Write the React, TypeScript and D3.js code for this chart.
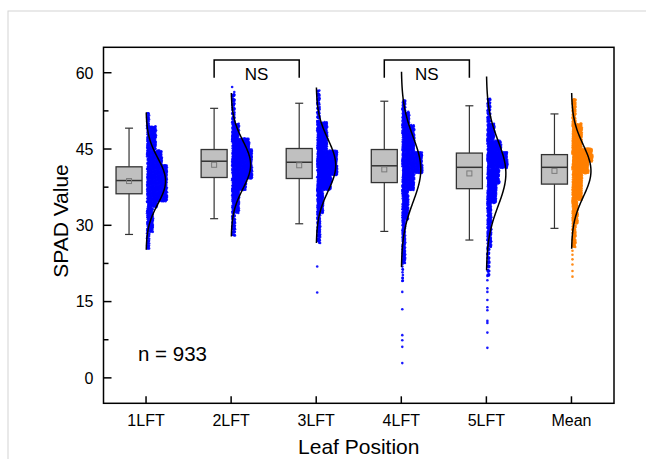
import React from 'react';
import * as d3 from 'd3';

// ---------- data ----------
const categories = ['1LFT', '2LFT', '3LFT', '4LFT', '5LFT', 'Mean'];
const whiskerLow = [28.2, 31.3, 30.3, 28.8, 27.1, 29.4];
const q1 = [36.2, 39.4, 39.2, 38.4, 37.2, 38.1];
const medians = [38.8, 42.6, 42.4, 41.7, 41.4, 41.4];
const q3 = [41.5, 44.9, 45.1, 44.9, 44.2, 43.9];
const whiskerHigh = [49.1, 53.0, 54.0, 54.4, 53.5, 51.9];
const means = [38.7, 41.9, 41.8, 41.0, 40.2, 40.7];
const curveSD = [4.5, 4.7, 5.1, 6.4, 6.35, 5.1];

// scatter distributions: bin edges (SPAD) and point counts per bin
const binEdges1 = [25.3, 28.7, 33.5, 34.6, 41.9, 44.7, 49.5, 52.3];
const binCounts1 = [28, 94, 36, 478, 137, 141, 19];
const outliers1: number[] = [];

const binEdges2 = [28.0, 32.4, 36.9, 39.1, 45.0, 47.1, 50.0, 56.2];
const binCounts2 = [46, 111, 108, 415, 126, 71, 55];
const outliers2 = [57.2];

const binEdges3 = [26.5, 32.4, 36.9, 39.8, 44.7, 50.3, 56.5];
const binCounts3 = [65, 99, 149, 358, 205, 55];
const outliers3 = [21.9, 16.8];

const binEdges4 = [18.6, 22.5, 31.0, 36.9, 40.2, 44.4, 49.7, 52.3, 54.6];
const binCounts4 = [10, 86, 119, 133, 281, 214, 61, 23];
const outliers4 = [16.9, 13.5, 8.4, 7.4, 6.1, 2.9];

const binEdges5 = [19.8, 25.7, 34.3, 38.2, 41.2, 44.4, 46.7, 50.0, 54.9];
const binCounts5 = [43, 126, 129, 132, 236, 118, 85, 54];
const outliers5 = [19.2, 17.6, 16.9, 15.3, 13.9, 13.3, 11.2, 10.8, 8.9, 5.9];

const binEdges6 = [25.7, 30.3, 34.9, 40.2, 42.5, 45.1, 50.0, 54.9];
const binCounts6 = [56, 94, 195, 141, 201, 180, 60];
const outliers6 = [25.0, 24.2, 23.3, 22.3, 21.0, 19.9];

const yMajorTicks = [0, 15, 30, 45, 60];
const yMinorTicks = [7.5, 22.5, 37.5, 52.5];
const nLabel = 'n = 933';
const bracketPairs = [
  ['2LFT', '3LFT'],
  ['4LFT', '5LFT'],
];
const bracketLabel = 'NS';

const groupBins = [
  { edges: binEdges1, counts: binCounts1, outliers: outliers1 },
  { edges: binEdges2, counts: binCounts2, outliers: outliers2 },
  { edges: binEdges3, counts: binCounts3, outliers: outliers3 },
  { edges: binEdges4, counts: binCounts4, outliers: outliers4 },
  { edges: binEdges5, counts: binCounts5, outliers: outliers5 },
  { edges: binEdges6, counts: binCounts6, outliers: outliers6 },
];

// ---------- layout ----------
const W = 646;
const H = 459;
const plotL = 103.5;
const plotR = 614;
const plotT = 47.3;
const plotB = 403.3;
const boxOffset = -17;
const boxW = 26;
const capW = 8;
const scatterW = 20;
const curveAmp = 19.5;
const FONT = 'Arial, "Liberation Sans", Helvetica, sans-serif';

const frac = (v: number) => v - Math.floor(v);

export default function App() {
  const x = d3.scalePoint<string>().domain(categories).range([plotL, plotR]).padding(0.5);
  const y = d3.scaleLinear().domain([-5, 65]).range([plotB, plotT]);

  // scatter points laid out within bins (R2 low-discrepancy fill)
  const points: { cx: number; cy: number; color: string; key: string }[] = [];
  groupBins.forEach((g, gi) => {
    const cat = categories[gi];
    const t = x(cat) as number;
    const color = cat === 'Mean' ? '#FF8000' : '#0000FF';
    const dens = g.counts.map((c, i) => c / (g.edges[i + 1] - g.edges[i]));
    const maxD = d3.max(dens) as number;
    let k = gi * 17;
    g.counts.forEach((c, bi) => {
      const lo = g.edges[bi];
      const hi = g.edges[bi + 1];
      const w = Math.max(0.6, (scatterW * dens[bi]) / maxD);
      for (let i = 0; i < c; i++) {
        k++;
        const fy = frac(0.5 + k * 0.569840291);
        const fx = frac(0.5 + k * 0.7548776662);
        const v = lo + fy * (hi - lo);
        points.push({ cx: t + 1 + fx * w, cy: y(v), color, key: `${gi}-${k}` });
      }
    });
    g.outliers.forEach((v, oi) => {
      points.push({ cx: t + 1, cy: y(v), color, key: `${gi}-o${oi}` });
    });
  });

  const curveLine = d3
    .line<[number, number]>()
    .x((d) => d[0])
    .y((d) => d[1])
    .curve(d3.curveBasis);

  const curves = categories.map((cat, i) => {
    const t = x(cat) as number;
    const m = means[i];
    const s = curveSD[i];
    const pts: [number, number][] = d3.range(-3, 3.0001, 0.05).map((z) => [
      t + curveAmp * Math.exp(-0.5 * z * z),
      y(m + z * s),
    ]);
    return curveLine(pts) as string;
  });

  return (
    <svg
      width={W}
      height={H}
      style={{ position: 'absolute', left: 0, top: 0, background: '#fff' }}
      fontFamily={FONT}
    >
      <rect x={0} y={0} width={W} height={H} fill="#fff" />
      <rect x={8} y={11} width={W + 20} height={H + 20} fill="none" stroke="#d4d4d4" strokeWidth={1} />

      {/* boxes */}
      {categories.map((cat, i) => {
        const cx = (x(cat) as number) + boxOffset;
        return (
          <g key={cat}>
            <line x1={cx} x2={cx} y1={y(q3[i])} y2={y(whiskerHigh[i])} stroke="#333" strokeWidth={1.2} />
            <line x1={cx} x2={cx} y1={y(q1[i])} y2={y(whiskerLow[i])} stroke="#333" strokeWidth={1.2} />
            <line x1={cx - capW / 2} x2={cx + capW / 2} y1={y(whiskerHigh[i])} y2={y(whiskerHigh[i])} stroke="#333" strokeWidth={1.2} />
            <line x1={cx - capW / 2} x2={cx + capW / 2} y1={y(whiskerLow[i])} y2={y(whiskerLow[i])} stroke="#333" strokeWidth={1.2} />
            <rect
              x={cx - boxW / 2}
              y={y(q3[i])}
              width={boxW}
              height={y(q1[i]) - y(q3[i])}
              fill="#C0C0C0"
              stroke="#333"
              strokeWidth={1.3}
            />
            <line x1={cx - boxW / 2} x2={cx + boxW / 2} y1={y(medians[i])} y2={y(medians[i])} stroke="#333" strokeWidth={1.5} />
            <rect x={cx - 2.5} y={y(means[i]) - 2.5} width={5} height={5} fill="none" stroke="#7a7a7a" strokeWidth={1} />
          </g>
        );
      })}

      {/* scatter */}
      <g>
        {points.map((p) => (
          <circle key={p.key} cx={p.cx} cy={p.cy} r={1.3} fill={p.color} fillOpacity={0.9} />
        ))}
      </g>

      {/* normal curves */}
      {curves.map((d, i) => (
        <path key={i} d={d} fill="none" stroke="#000" strokeWidth={1.5} />
      ))}

      {/* brackets */}
      {bracketPairs.map(([a, b], i) => {
        const xa = (x(a) as number) + boxOffset;
        const xb = (x(b) as number) + boxOffset;
        const yt = y(62.5);
        const yl = y(59.0);
        return (
          <g key={i}>
            <path d={`M${xa},${yl}V${yt}H${xb}V${yl}`} fill="none" stroke="#000" strokeWidth={1.5} />
            <text x={(xa + xb) / 2} y={y(58.5)} textAnchor="middle" fontSize={17} fill="#000">
              {bracketLabel}
            </text>
          </g>
        );
      })}

      {/* frame */}
      <rect x={plotL} y={plotT} width={plotR - plotL} height={plotB - plotT} fill="none" stroke="#000" strokeWidth={1.5} />

      {/* y ticks */}
      {yMajorTicks.map((v) => (
        <g key={v}>
          <line x1={plotL} x2={plotL + 8} y1={y(v)} y2={y(v)} stroke="#000" strokeWidth={1.5} />
          <text x={93.5} y={y(v) + 5.8} textAnchor="end" fontSize={16} fill="#000">
            {v}
          </text>
        </g>
      ))}
      {yMinorTicks.map((v) => (
        <line key={v} x1={plotL} x2={plotL + 5} y1={y(v)} y2={y(v)} stroke="#000" strokeWidth={1.5} />
      ))}

      {/* x ticks */}
      {categories.map((cat) => (
        <g key={cat}>
          <line x1={x(cat) as number} x2={x(cat) as number} y1={plotB} y2={plotB - 7} stroke="#000" strokeWidth={1.5} />
          <text x={x(cat) as number} y={426} textAnchor="middle" fontSize={16} fill="#000">
            {cat}
          </text>
        </g>
      ))}

      {/* labels */}
      <text x={(plotL + plotR) / 2} y={454} textAnchor="middle" fontSize={21} fill="#000">
        Leaf Position
      </text>
      <text transform="translate(68,221) rotate(-90)" textAnchor="middle" fontSize={21} fill="#000">
        SPAD Value
      </text>
      <text x={138} y={360.5} fontSize={20.5} fill="#000">
        {nLabel}
      </text>
    </svg>
  );
}
